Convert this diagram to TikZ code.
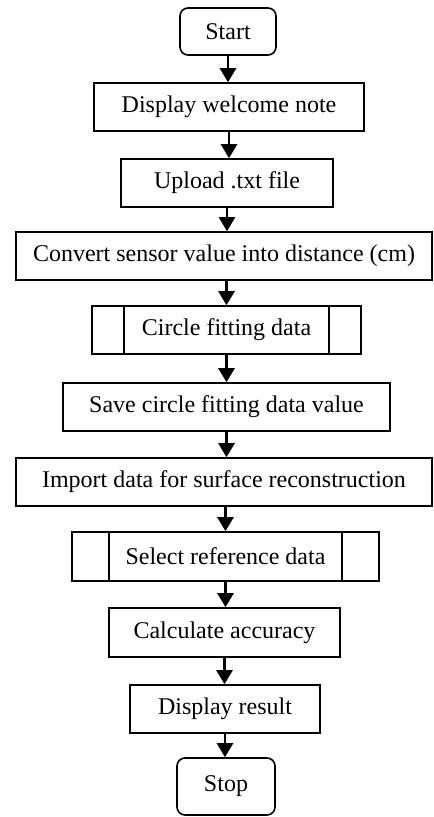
\documentclass[tikz,border=0pt]{standalone}
\usepackage{fontspec}
\setmainfont{Liberation Serif}
\usetikzlibrary{arrows.meta}

\begin{document}
\begin{tikzpicture}[x=0.5pt,y=-0.5pt,
    box/.style={draw,line width=0.8pt,minimum height=24pt,inner sep=0pt,font=\fontsize{12}{14}\selectfont},
    term/.style={box,rounded corners=4pt},
    subproc/.style={box,path picture={
        \draw[line width=0.8pt] ([xshift=#1]path picture bounding box.north west) -- ([xshift=#1]path picture bounding box.south west);
        \draw[line width=0.8pt] ([xshift=-#1]path picture bounding box.north east) -- ([xshift=-#1]path picture bounding box.south east);}},
    flow/.style={-{Triangle[length=7pt,width=8pt]},line width=1.3pt}]
          \useasboundingbox (0,0) rectangle (433,817);
          \node[term,minimum width=48pt,minimum height=23.5pt] (start) at (228,31.5) {Start};
          \node[box,minimum width=135pt] (welcome) at (229,107) {Display welcome note};
          \node[box,minimum width=106pt] (upload) at (227,183) {Upload .txt file};
          \node[box,minimum width=208pt] (convert) at (224,256) {Convert sensor value into distance (cm)};
          \node[subproc=16pt,minimum width=134.5pt] (circfit) at (226.5,330) {Circle fitting data};
          \node[box,minimum width=163.5pt] (savefit) at (226.5,407) {Save circle fitting data value};
          \node[box,minimum width=208pt] (import) at (224,482) {Import data for surface reconstruction};
          \node[subproc=18.5pt,minimum width=153.5pt,minimum height=24.5pt] (selref) at (225.5,556.5) {Select reference data};
          \node[box,minimum width=115.5pt,minimum height=24.5pt] (calc) at (224.5,632.5) {Calculate accuracy};
          \node[box,minimum width=95pt] (result) at (225,709) {Display result};
          \node[term,minimum width=49pt,minimum height=28.5pt] (stop) at (226,786.5) {Stop};
          \draw[flow] (start.south) -- (start.south |- welcome.north);
          \draw[flow] (welcome.south) -- (welcome.south |- upload.north);
          \draw[flow] (upload.south) -- (upload.south |- convert.north);
          \draw[flow] (convert.south -| circfit.north) -- (circfit.north);
          \draw[flow] (circfit.south) -- (circfit.south |- savefit.north);
          \draw[flow] (savefit.south) -- (savefit.south |- import.north);
          \draw[flow] (import.south -| selref.north) -- (selref.north);
          \draw[flow] (selref.south) -- (selref.south |- calc.north);
          \draw[flow] (calc.south) -- (calc.south |- result.north);
          \draw[flow] (result.south) -- (result.south |- stop.north);
        \end{tikzpicture}
\end{document}
